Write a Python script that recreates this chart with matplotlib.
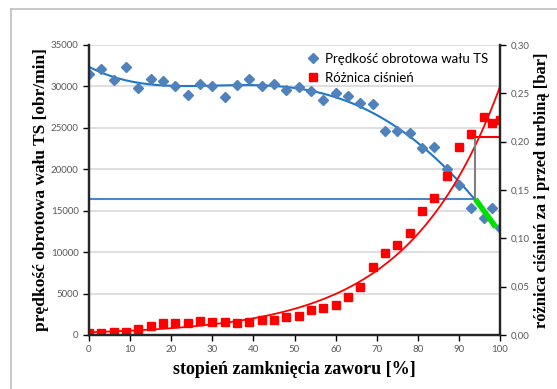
import numpy as np
import matplotlib.pyplot as plt
from matplotlib.lines import Line2D

# stopien zamkniecia zaworu [%]
x_pts = [0, 3, 6, 9, 12, 15, 18, 21, 24, 27, 30, 33, 36, 39, 42, 45, 48, 51,
         54, 57, 60, 63, 66, 69, 72, 75, 78, 81, 84, 87, 90, 93, 96, 98, 100]
# predkosc obrotowa walu TS [obr/min]
speed = [31500, 32050, 30760, 32370, 29800, 30920, 30680, 30040, 28990, 30280,
         30000, 28670, 30160, 30880, 30000, 30280, 29590, 29950, 29470, 28350,
         29230, 28830, 28020, 27870, 24640, 24640, 24400, 22520, 22640, 19990,
         18130, 15280, 14150, 15350, 12900]
# roznica cisnien [bar]
dp = [0.0024, 0.0017, 0.0031, 0.0031, 0.0059, 0.0093, 0.0121, 0.0128, 0.0121,
      0.0148, 0.0131, 0.0134, 0.0128, 0.0138, 0.0158, 0.0158, 0.0183, 0.0197,
      0.0259, 0.0279, 0.0310, 0.0396, 0.0500, 0.0703, 0.0845, 0.0934, 0.1058,
      0.1286, 0.1414, 0.1645, 0.1948, 0.2076, 0.2258, 0.2190, 0.2224]

# punkt odczytu
x_cut = 94
speed_cut = 16400
dp_cut = 0.2045
green_x = [94, 99]
green_y = [16400, 13000]

left_ticks = [0, 5000, 10000, 15000, 20000, 25000, 30000, 35000]
right_ticks = [0, 0.05, 0.10, 0.15, 0.20, 0.25, 0.30]
x_ticks = [0, 10, 20, 30, 40, 50, 60, 70, 80, 90, 100]

x = np.array(x_pts, float)

# linie trendu
p = np.polyfit(x, speed, 4)
xs = np.linspace(0, x_cut, 200)
ys = np.polyval(p, xs)
b, a = np.polyfit(x, np.log(dp), 1)
xr = np.linspace(0, 100, 200)
yr = np.exp(a) * np.exp(b * xr)

fig = plt.figure(figsize=(5.57, 3.89), dpi=100)
ax = fig.add_axes([89/557, 1-335/389, 411/557, 290/389])
ax2 = ax.twinx()

serif = ['Liberation Serif', 'DejaVu Serif']
sans = ['Lato', 'DejaVu Sans']

ax.set_xlim(0, 100)
ax.set_ylim(0, 35000)
ax2.set_ylim(0, 0.30)
ax.set_xticks(x_ticks)
ax.set_yticks(left_ticks)
ax2.set_yticks(right_ticks)
ax2.set_yticklabels([f'{v:.2f}'.replace('.', ',') for v in right_ticks])
ax.grid(axis='y', color='#d9d9d9', lw=1.2)
ax.set_axisbelow(True)

for a_ in (ax, ax2):
    a_.spines['top'].set_visible(False)
    for s in ('left', 'right', 'bottom'):
        a_.spines[s].set_linewidth(1.6)
        a_.spines[s].set_color('#262626')
    a_.tick_params(labelsize=7, labelcolor='#595959', length=4, width=1, direction='out')
    for lab in a_.get_xticklabels() + a_.get_yticklabels():
        lab.set_family(sans)

ax.plot([0, x_cut], [speed_cut, speed_cut], color='#4a86c8', lw=1.5)
ax.plot(xs, ys, color='#1f78c8', lw=1.5)
h1, = ax.plot(x, speed, 'D', color='#4f81bd', ms=5, ls='none')
ax.plot(green_x, green_y, color='#00e000', lw=4, solid_capstyle='butt')

ax2.plot(xr, yr, color='#ff0000', lw=1.3)
h2, = ax2.plot(x, dp, 's', color='#ff0000', ms=6, ls='none')
ax2.plot([x_cut, x_cut], [speed_cut / 35000 * 0.30, dp_cut], color='#808080', lw=1.5)
ax2.plot([x_cut, 99.5], [dp_cut, dp_cut], color='#ff0000', lw=1.5)

ax.set_xlabel('stopień zamknięcia zaworu [%]', family=serif, fontsize=13,
              fontweight='bold', labelpad=5)
ax.set_ylabel('prędkość obrotowa wału TS [obr/min]', family=serif, fontsize=12.5,
              fontweight='bold', labelpad=1)
ax2.set_ylabel('różnica ciśnień za i przed turbiną [bar]', family=serif, fontsize=12,
               fontweight='bold', labelpad=3)

leg = ax2.legend([h1, h2], ['Prędkość obrotowa wału TS', 'Różnica ciśnień'],
                 loc='upper right', bbox_to_anchor=(0.99, 1.0), frameon=False,
                 prop={'family': sans, 'size': 9.5}, handletextpad=0.3,
                 handlelength=1.2, labelspacing=0.5, borderaxespad=0.2)

fig.add_artist(Line2D([11/557, 11/557], [0, 1-9/389], color='#bfbfbf', lw=1.2))
fig.add_artist(Line2D([11/557, 1], [1-9/389, 1-9/389], color='#bfbfbf', lw=1.2))

fig.savefig('out.png', dpi=100)
